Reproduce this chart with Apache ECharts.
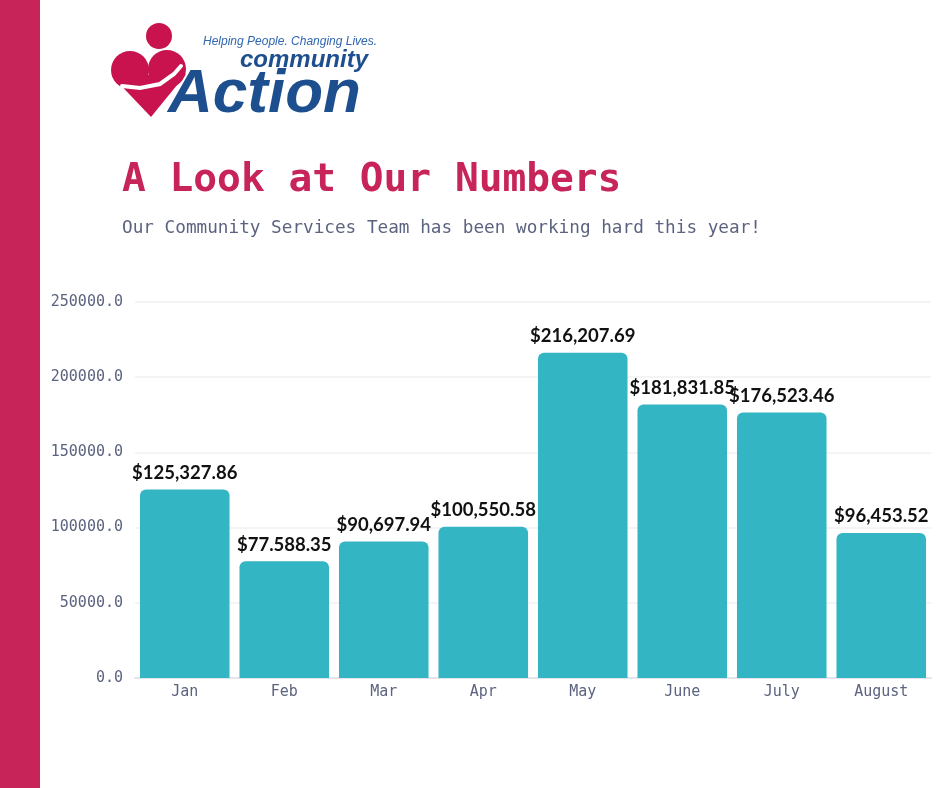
<!DOCTYPE html>
<html>
<head>
<meta charset="utf-8">
<title>A Look at Our Numbers</title>
<script src="https://cdn.jsdelivr.net/npm/echarts@6/dist/echarts.min.js"></script>
<style>
  html, body { margin: 0; padding: 0; background: #fff; }
  #chart { width: 940px; height: 788px; }
</style>
</head>
<body>
<div id="chart"></div>
<script>
// 月份和金额
var months = ["Jan", "Feb", "Mar", "Apr", "May", "June", "July", "August"];
var amounts = [125327.86, 77588.35, 90697.94, 100550.58, 216207.69, 181831.85, 176523.46, 96453.52];
// labels as printed on the poster (Feb uses dots)
var amountLabels = ["$125,327.86", "$77.588.35", "$90,697.94", "$100,550.58",
  "$216,207.69", "$181,831.85", "$176,523.46", "$96,453.52"];
var yTicks = { min: 0, max: 250000, step: 50000 };

var myChart = echarts.init(document.getElementById("chart"));

var mono = "'DejaVu Sans Mono', 'Liberation Mono', monospace";
var pink = "#c7255a";
var heartRed = "#c8134e";
var logoBlue = "#1d4f8f";

var option = {
  backgroundColor: "#fff",
  animation: false,
  grid: {
    left: 135,
    right: 9,
    top: 302,
    bottom: 110
  },
  graphic: [
    // left stripe
    { type: "rect", left: 0, top: 0, shape: { width: 40, height: 788 }, style: { fill: pink } },
    // logo: head + heart built from circles and a triangle
    { type: "circle", shape: { cx: 159, cy: 36, r: 13 }, style: { fill: heartRed } },
    { type: "circle", shape: { cx: 130, cy: 70, r: 19 }, style: { fill: heartRed } },
    { type: "circle", shape: { cx: 167, cy: 69, r: 19 }, style: { fill: heartRed } },
    { type: "polygon", shape: { points: [[112, 76], [186, 74], [151, 117]] }, style: { fill: heartRed } },
    {
      type: "polyline",
      shape: { points: [[122, 86], [140, 88], [160, 84], [174, 74], [181, 66]] },
      style: { stroke: "#fff", lineWidth: 4, lineCap: "round", fill: null }
    },
    {
      type: "text", left: 203, top: 36,
      style: { text: "Helping People. Changing Lives.", fill: "#2f66b0", font: "italic 12px 'Liberation Sans', Arial, sans-serif" }
    },
    {
      type: "text", left: 240, top: 48,
      style: { text: "community", fill: logoBlue, font: "italic bold 24px 'Liberation Sans', Arial, sans-serif" }
    },
    {
      type: "text", left: 168, top: 64,
      style: { text: "Action", fill: logoBlue, font: "italic bold 62px 'Liberation Sans', Arial, sans-serif" }
    },
    // title
    {
      type: "text", left: 122, top: 161,
      style: { text: "A Look at Our Numbers", fill: pink, font: "bold 39.5px " + mono }
    },
    {
      type: "text", left: 122, top: 219,
      style: { text: "Our Community Services Team has been working hard this year!", fill: "#5c6380", font: "17.7px " + mono }
    }
  ],
  xAxis: {
    type: "category",
    data: months,
    axisTick: { show: false },
    axisLine: { lineStyle: { color: "#e4e4ea", width: 2 } },
    axisLabel: { color: "#5c6380", fontFamily: mono, fontSize: 15, margin: 7 }
  },
  yAxis: {
    type: "value",
    min: yTicks.min,
    max: yTicks.max,
    interval: yTicks.step,
    axisLine: { show: false },
    axisTick: { show: false },
    splitLine: { lineStyle: { color: "#f1f1f3", width: 1.5 } },
    axisLabel: {
      color: "#5c6380",
      fontFamily: mono,
      fontSize: 15,
      margin: 12,
      formatter: function (v) { return v.toFixed(1); }
    }
  },
  series: [
    {
      type: "bar",
      data: amounts,
      barCategoryGap: "10%",
      itemStyle: { color: "#33b5c4", borderRadius: [6, 6, 0, 0] },
      label: {
        show: true,
        position: "top",
        distance: 7,
        color: "#111",
        fontFamily: "Lato, 'Noto Sans', sans-serif",
        fontWeight: "bold",
        fontSize: 18.5,
        formatter: function (p) { return amountLabels[p.dataIndex]; }
      }
    }
  ]
};

myChart.setOption(option, true);
</script>
</body>
</html>
